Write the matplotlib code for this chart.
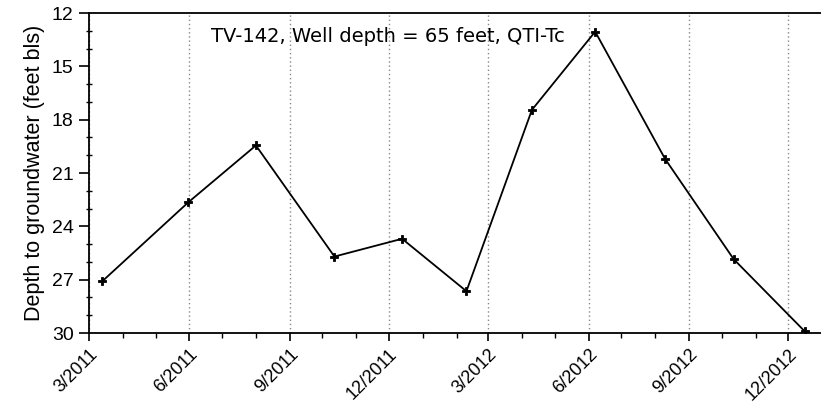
import matplotlib
matplotlib.use("Agg")
import matplotlib.pyplot as plt
import matplotlib.dates as mdates
import numpy as np
import datetime as dt

dates = ["2011-03-13", "2011-05-31", "2011-08-01", "2011-10-12", "2011-12-13",
         "2012-02-10", "2012-04-10", "2012-06-07", "2012-08-10", "2012-10-12", "2012-12-16"]
depths = [27.1, 22.65, 19.45, 25.7, 24.7, 27.65, 17.45, 13.05, 20.2, 25.85, 29.9]
tick_dates = ["2011-03-01", "2011-06-01", "2011-09-01", "2011-12-01", "2012-03-01",
              "2012-06-01", "2012-09-01", "2012-12-01"]
tick_labels = ["3/2011", "6/2011", "9/2011", "12/2011", "3/2012", "6/2012", "9/2012", "12/2012"]
y_ticks = [12, 15, 18, 21, 24, 27, 30]

x = [dt.datetime.fromisoformat(d) for d in dates]
xt = [dt.datetime.fromisoformat(d) for d in tick_dates]

fig = plt.figure(figsize=(8.21, 4.07), dpi=100)
ax = fig.add_axes([89/821, (407-333)/407, (821-89)/821, (333-13)/407])

ax.plot(x, depths, color="black", lw=1.3, marker="P", ms=6, mec="black", mfc="black", mew=0.6)

ax.set_xlim(dt.datetime(2011, 3, 1), dt.datetime(2012, 12, 31))
ax.set_ylim(30, 12)
ax.set_yticks(y_ticks)
ax.set_yticklabels([str(v) for v in y_ticks], fontfamily="Liberation Sans", fontsize=14)
ax.yaxis.set_minor_locator(matplotlib.ticker.MultipleLocator(1))
ax.set_xticks(xt)
ax.set_xticklabels(tick_labels, rotation=45, ha="right", rotation_mode="anchor",
                   fontfamily="Liberation Sans", fontsize=13)
ax.xaxis.set_minor_locator(mdates.MonthLocator())

ax.tick_params(axis="y", which="major", direction="out", length=7, width=1.2, pad=4)
ax.tick_params(axis="y", which="minor", direction="inout", length=5, width=1.0)
ax.tick_params(axis="x", which="major", direction="out", length=6, width=1.2, pad=3)
ax.tick_params(axis="x", which="minor", direction="out", length=3.5, width=1.0)

ax.grid(axis="x", which="major", color="#888888", linestyle=(0, (1, 2)), lw=1.0)
for s in ["left", "bottom", "top"]:
    ax.spines[s].set_linewidth(1.3)
ax.spines["right"].set_visible(False)

ax.set_ylabel("Depth to groundwater (feet bls)", fontfamily="Liberation Sans", fontsize=15.5, labelpad=5)
ax.text(0.408, 0.928, "TV-142, Well depth = 65 feet, QTI-Tc", transform=ax.transAxes,
        ha="center", va="center", fontfamily="DejaVu Sans", fontsize=14)

fig.savefig("out.png", dpi=100)
